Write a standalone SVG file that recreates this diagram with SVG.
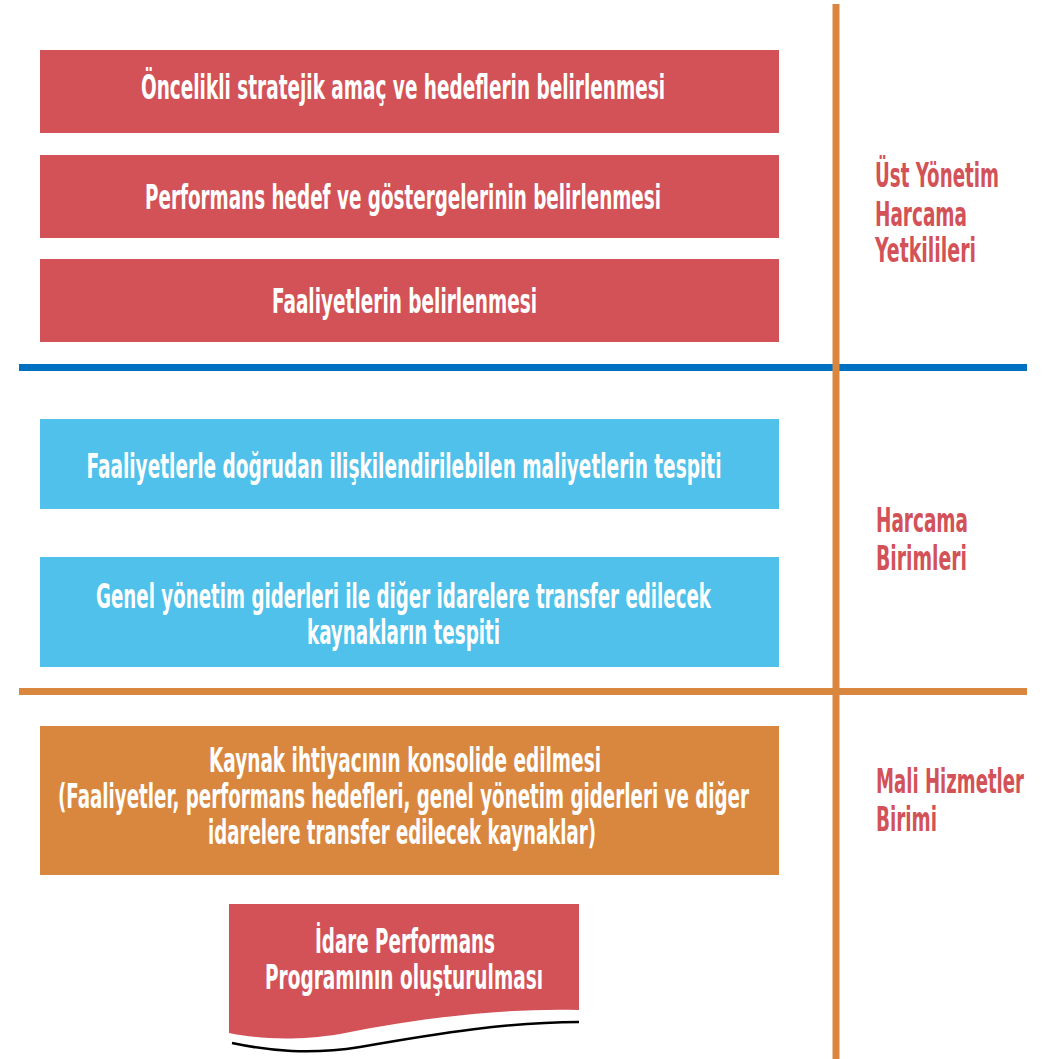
<svg xmlns="http://www.w3.org/2000/svg" width="1048" height="1059" viewBox="0 0 1048 1059">
<style>
.t{font-family:"Liberation Sans Narrow","DejaVu Sans Condensed","Liberation Sans",sans-serif;font-stretch:condensed;font-weight:bold;font-size:33px;fill:#ffffff;text-anchor:middle}
.l{font-family:"Liberation Sans Narrow","DejaVu Sans Condensed","Liberation Sans",sans-serif;font-stretch:condensed;font-weight:bold;font-size:33px;fill:#d35257;text-anchor:start}
.red{fill:#d35257}
.blue{fill:#4fc1ea}
.orange{fill:#d9873f}
</style>
<rect width="1048" height="1059" fill="#ffffff"/>
<g id="node-oncelikli">
<rect class="red" x="40" y="50" width="739" height="83"/>
<text class="t" x="403" y="99" textLength="524" lengthAdjust="spacingAndGlyphs">Öncelikli stratejik amaç ve hedeflerin belirlenmesi</text>
</g>
<g id="node-performans">
<rect class="red" x="40" y="155" width="739" height="83"/>
<text class="t" x="403" y="209" textLength="516" lengthAdjust="spacingAndGlyphs">Performans hedef ve göstergelerinin belirlenmesi</text>
</g>
<g id="node-faaliyetler">
<rect class="red" x="40" y="259" width="739" height="83"/>
<text class="t" x="404.5" y="313" textLength="265" lengthAdjust="spacingAndGlyphs">Faaliyetlerin belirlenmesi</text>
</g>
<g id="node-maliyet">
<rect class="blue" x="40" y="419" width="739" height="90"/>
<text class="t" x="404" y="478" textLength="635" lengthAdjust="spacingAndGlyphs">Faaliyetlerle doğrudan ilişkilendirilebilen maliyetlerin tespiti</text>
</g>
<g id="node-genel">
<rect class="blue" x="40" y="557" width="739" height="110"/>
<text class="t" x="403.5" y="608" textLength="615" lengthAdjust="spacingAndGlyphs">Genel yönetim giderleri ile diğer idarelere transfer edilecek</text>
<text class="t" x="403.5" y="644" textLength="193" lengthAdjust="spacingAndGlyphs">kaynakların tespiti</text>
</g>
<g id="node-kaynak">
<rect class="orange" x="40" y="726" width="739" height="149"/>
<text class="t" x="405" y="772" textLength="392" lengthAdjust="spacingAndGlyphs">Kaynak ihtiyacının konsolide edilmesi</text>
<text class="t" x="403.5" y="808" textLength="691" lengthAdjust="spacingAndGlyphs">(Faaliyetler, performans hedefleri, genel yönetim giderleri ve diğer</text>
<text class="t" x="402" y="844" textLength="388" lengthAdjust="spacingAndGlyphs">idarelere transfer edilecek kaynaklar)</text>
</g>
<g id="node-program">
<path class="red" d="M229,904 L579,904 L579,1010 C500,1008 420,1018 340,1034 C290,1042 255,1038 229,1033 Z"/>
<path d="M232,1043 C270,1051 310,1055 360,1047 C440,1033 510,1022 579,1022" fill="none" stroke="#000000" stroke-width="2.5"/>
<text class="t" x="405" y="953" textLength="180" lengthAdjust="spacingAndGlyphs">İdare Performans</text>
<text class="t" x="404" y="989" textLength="278" lengthAdjust="spacingAndGlyphs">Programının oluşturulması</text>
</g>
<g id="label-ust">
<text class="l" x="875" y="187" textLength="124" lengthAdjust="spacingAndGlyphs">Üst Yönetim</text>
<text class="l" x="875" y="226" textLength="92" lengthAdjust="spacingAndGlyphs">Harcama</text>
<text class="l" x="875" y="262" textLength="101" lengthAdjust="spacingAndGlyphs">Yetkilileri</text>
</g>
<g id="label-harcama">
<text class="l" x="876" y="532" textLength="92" lengthAdjust="spacingAndGlyphs">Harcama</text>
<text class="l" x="876" y="570" textLength="91" lengthAdjust="spacingAndGlyphs">Birimleri</text>
</g>
<g id="label-mali">
<text class="l" x="876" y="793" textLength="148" lengthAdjust="spacingAndGlyphs">Mali Hizmetler</text>
<text class="l" x="876" y="831" textLength="61" lengthAdjust="spacingAndGlyphs">Birimi</text>
</g>
<g id="connectors">
<rect x="19" y="364" width="1008" height="7" fill="#0070c0"/>
<rect x="19" y="688" width="1008" height="7" fill="#d9873f"/>
<rect x="832.5" y="4" width="7" height="1055" fill="#d9873f"/>
</g>
</svg>
